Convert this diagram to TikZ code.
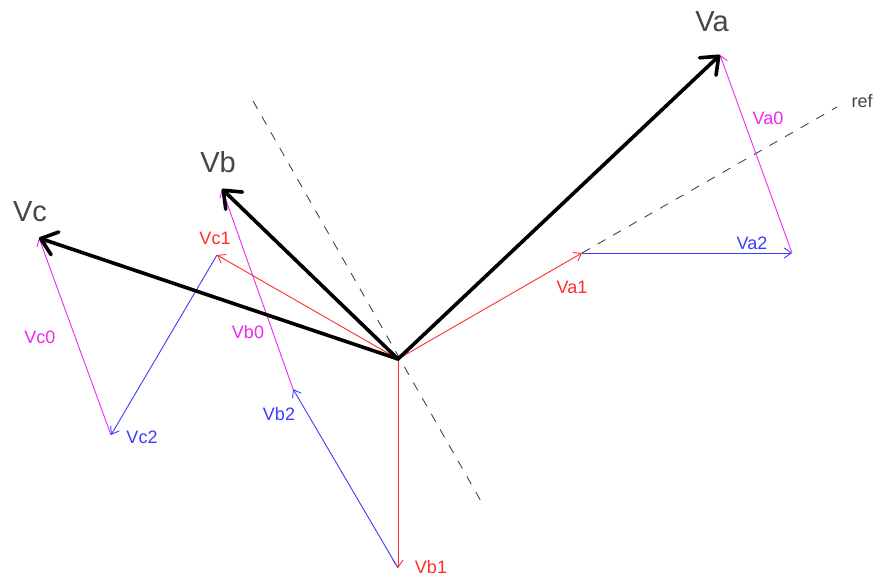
\documentclass[tikz,border=0pt]{standalone}
\usepackage{fontspec}
\setmainfont{Liberation Sans}
\usetikzlibrary{arrows.meta}
\definecolor{cred}{RGB}{255,45,45}
\definecolor{cblue}{RGB}{60,60,255}
\definecolor{cmag}{RGB}{240,40,240}
\definecolor{cgray}{RGB}{70,70,70}
\tikzset{
  thinvec/.style={line width=0.9pt,-{Straight Barb[length=7pt,width=10pt,line width=0.9pt]}},
  thickvec/.style={line width=3.6pt,line cap=round,-{Straight Barb[length=15pt,width=24pt,line width=3.6pt,round]}},
  refline/.style={line width=0.9pt,cgray,dash pattern=on 9pt off 9pt},
  biglbl/.style={font=\fontsize{29}{29}\selectfont,text=cgray,inner sep=0pt},
  smalllbl/.style={font=\fontsize{18}{18}\selectfont,inner sep=0pt}
}
\begin{document}
\begin{tikzpicture}[x=1pt,y=-1pt]
\useasboundingbox[fill=white] (0,0) rectangle (874,577);
\coordinate (O) at (398,359);
\coordinate (Va) at (720,55);
\coordinate (Vb) at (222,189);
\coordinate (Vc) at (39,238);
\coordinate (A1) at (582,253);
\coordinate (A2) at (792,253);
\coordinate (B1) at (398,568);
\coordinate (B2) at (293,389);
\coordinate (C1) at (217,255);
\coordinate (C2) at (111,435);
\coordinate (R1) at (253,101);
\coordinate (R2) at (482,503);
\coordinate (RE) at (837,107);
% reference lines
\draw[refline] (R1) -- (R2);
\draw[refline] (A1) -- (RE);
% positive sequence (red)
\draw[thinvec,cred] (O) -- (A1);
\draw[thinvec,cred] (O) -- (B1);
\draw[thinvec,cred] (O) -- (C1);
% negative sequence (blue)
\draw[thinvec,cblue] (A1) -- (A2);
\draw[thinvec,cblue] (B1) -- (B2);
\draw[thinvec,cblue] (C1) -- (C2);
% zero sequence (magenta)
\draw[thinvec,cmag] (A2) -- (Va);
\draw[thinvec,cmag] (B2) -- (Vb);
\draw[thinvec,cmag] (C2) -- (Vc);
% phasors
\draw[thickvec] (O) -- (Va);
\draw[thickvec] (O) -- (Vb);
\draw[thickvec] (O) -- (Vc);
% labels
\node[biglbl] (lVa) at (712,22) {Va};
\node[biglbl] (lVb) at (218,162) {Vb};
\node[biglbl] (lVc) at (30,212) {Vc};
\node[smalllbl,text=cgray] (lref) at (862,101) {ref};
\node[smalllbl,text=cmag] (lVa0) at (768,118) {Va0};
\node[smalllbl,text=cblue] (lVa2) at (752,243) {Va2};
\node[smalllbl,text=cred] (lVa1) at (572,287) {Va1};
\node[smalllbl,text=cred] (lVc1) at (215,238) {Vc1};
\node[smalllbl,text=cmag] (lVb0) at (248,332) {Vb0};
\node[smalllbl,text=cmag] (lVc0) at (40,337) {Vc0};
\node[smalllbl,text=cblue] (lVc2) at (142,437) {Vc2};
\node[smalllbl,text=cblue] (lVb2) at (279,414) {Vb2};
\node[smalllbl,text=cred] (lVb1) at (431,567) {Vb1};
\end{tikzpicture}
\end{document}
